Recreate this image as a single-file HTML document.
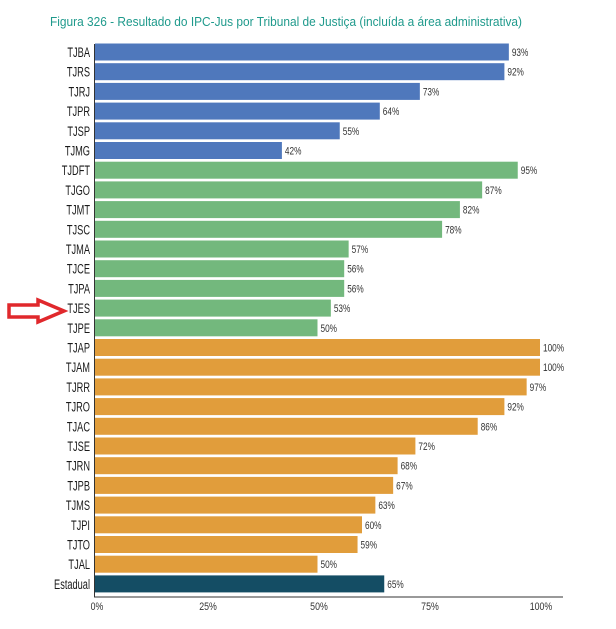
<!DOCTYPE html>
<html><head><meta charset="utf-8"><style>
body{margin:0;background:#fff;width:616px;height:624px;overflow:hidden}
svg text{font-family:"Liberation Sans",sans-serif}
</style></head><body>
<svg width="616" height="624" viewBox="0 0 616 624" xmlns="http://www.w3.org/2000/svg">
<text x="50" y="26" font-size="12.5" fill="#1f9a8c" textLength="472" lengthAdjust="spacingAndGlyphs">Figura 326 - Resultado do IPC-Jus por Tribunal de Justiça (incluída a área administrativa)</text>
<g id="bars"></g>
<line x1="94.5" y1="44" x2="94.5" y2="597" stroke="#333" stroke-width="1"/>
<line x1="94" y1="597" x2="563" y2="597" stroke="#333" stroke-width="1"/>
<g font-size="11" fill="#333" text-anchor="middle">
<text x="97" y="610" transform="translate(97 0) scale(0.8 1) translate(-97 0)">0%</text>
<text x="208" y="610" transform="translate(208 0) scale(0.8 1) translate(-208 0)">25%</text>
<text x="319" y="610" transform="translate(319 0) scale(0.8 1) translate(-319 0)">50%</text>
<text x="430" y="610" transform="translate(430 0) scale(0.8 1) translate(-430 0)">75%</text>
<text x="541" y="610" transform="translate(541 0) scale(0.8 1) translate(-541 0)">100%</text>
</g>
<polygon points="9,305 38,305 38,300 64,311 38,322 38,317 9,317" fill="none" stroke="#e0282c" stroke-width="3.5" stroke-linejoin="miter"/>
</svg>
<script>
const d=[["TJBA",93,"b"],["TJRS",92,"b"],["TJRJ",73,"b"],["TJPR",64,"b"],["TJSP",55,"b"],["TJMG",42,"b"],
["TJDFT",95,"g"],["TJGO",87,"g"],["TJMT",82,"g"],["TJSC",78,"g"],["TJMA",57,"g"],["TJCE",56,"g"],["TJPA",56,"g"],["TJES",53,"g"],["TJPE",50,"g"],
["TJAP",100,"o"],["TJAM",100,"o"],["TJRR",97,"o"],["TJRO",92,"o"],["TJAC",86,"o"],["TJSE",72,"o"],["TJRN",68,"o"],["TJPB",67,"o"],["TJMS",63,"o"],["TJPI",60,"o"],["TJTO",59,"o"],["TJAL",50,"o"],["Estadual",65,"e"]];
const c={b:"#4f78bc",g:"#73b87d",o:"#e19d3b",e:"#144d64"};
let s="";
d.forEach((r,i)=>{const cy=52+i*19.7;const w=r[1]*4.45;
s+=`<rect x="95" y="${cy-8.5}" width="${w}" height="17" fill="${c[r[2]]}"/>`;
s+=`<text x="90" y="${cy+5}" font-size="14" text-anchor="end" fill="#1a1a1a" transform="translate(90 0) scale(0.66 1) translate(-90 0)">${r[0]}</text>`;
const tx=95+w+3;
s+=`<text x="${tx}" y="${cy+4}" font-size="11" fill="#333" transform="translate(${tx} 0) scale(0.75 1) translate(${-tx} 0)">${r[1]}%</text>`;});
document.getElementById("bars").innerHTML=s;
</script>
</body></html>
